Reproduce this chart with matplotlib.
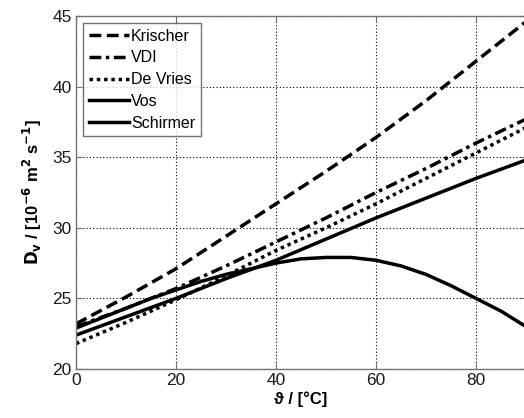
import numpy as np
import matplotlib
matplotlib.use("Agg")
import matplotlib.pyplot as plt

plt.rcParams['font.family'] = ['Liberation Sans', 'DejaVu Sans']

# Temperatur [°C] und Diffusionskoeffizient [1e-6 m^2/s]
temp = [0, 10, 20, 30, 40, 50, 60, 70, 80, 90]
krischer = [23.2, 25.1, 27.1, 29.4, 31.7, 34.0, 36.4, 39.0, 41.8, 44.6]
vdi = [23.0, 24.3, 25.7, 27.3, 29.0, 30.7, 32.5, 34.2, 36.0, 37.7]
de_vries = [21.8, 23.3, 24.9, 26.6, 28.4, 30.0, 31.7, 33.5, 35.3, 37.1]
vos = [22.4, 23.7, 25.0, 26.4, 27.7, 29.2, 30.7, 32.1, 33.5, 34.8]
temp_s = [0, 5, 10, 15, 20, 25, 30, 35, 40, 45, 50, 55, 60, 65, 70, 75, 80, 85, 90]
schirmer = [22.9, 23.6, 24.3, 25.0, 25.6, 26.2, 26.7, 27.1, 27.5, 27.8, 27.9, 27.9, 27.7,
            27.3, 26.7, 25.9, 25.0, 24.1, 23.0]

xticks = [0, 20, 40, 60, 80]
yticks = [20, 25, 30, 35, 40, 45]

fig = plt.figure(figsize=(5.24, 4.18), dpi=100)
ax = fig.add_axes([76 / 524, 49 / 418, 450 / 524, 353 / 418])

lw = 2.5
ax.plot(temp, krischer, color='k', lw=lw, dashes=(3.4, 1.6), label='Krischer')
ax.plot(temp, vdi, color='k', lw=lw, dashes=(3.4, 1.3, 1.0, 1.3), label='VDI')
ax.plot(temp, de_vries, color='k', lw=lw, dashes=(1.0, 1.1), label='De Vries')
ax.plot(temp, vos, color='k', lw=lw, label='Vos')
ax.plot(temp_s, schirmer, color='k', lw=lw, label='Schirmer')

ax.set_xlim(0, 90)
ax.set_ylim(20, 45)
ax.set_xticks(xticks)
ax.set_yticks(yticks)
ax.grid(True, color='k', linestyle=(0, (1, 2)), linewidth=0.8)
ax.tick_params(direction='in', labelsize=12.5, top=True, right=True, length=4,
               color='0.45', pad=3, labelcolor='0.1')
for s in ax.spines.values():
    s.set_color('0.45')
    s.set_linewidth(1.0)

ax.set_xlabel('ϑ / [°C]', fontsize=12, fontweight='bold', labelpad=2)
ax.set_ylabel(r'$\mathbf{D_v}$ / [10$^{\mathbf{-6}}$ m$^{\mathbf{2}}$ s$^{\mathbf{-1}}$]',
              fontsize=12, fontweight='bold', labelpad=6)

leg = ax.legend(loc='upper left', fontsize=11.5, frameon=True, fancybox=False,
                edgecolor='0.3', handlelength=2.5, handletextpad=0.15,
                labelspacing=0.42, borderpad=0.35, borderaxespad=0.45)
leg.get_frame().set_linewidth(1.0)

fig.savefig('out.png', dpi=100)
